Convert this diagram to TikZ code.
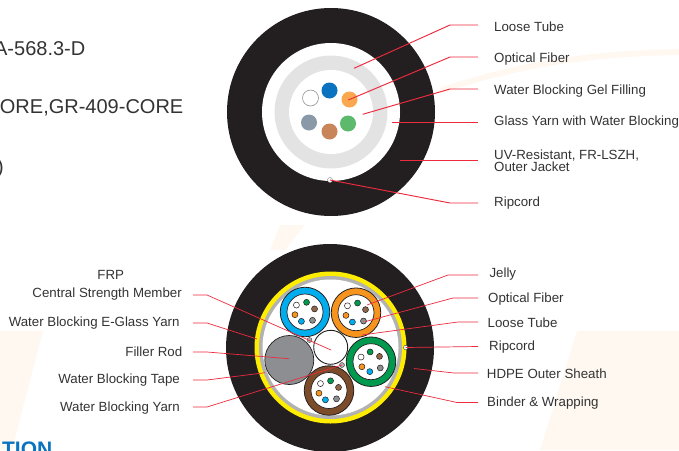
\documentclass[tikz,border=0pt]{standalone}
\usepackage{fontspec}
\setmainfont{Liberation Sans}
\definecolor{jk}{HTML}{231F20}
\definecolor{ln}{HTML}{ED2A3E}
\definecolor{txt}{HTML}{333333}
\definecolor{gy}{HTML}{E3E3E3}
\definecolor{wash}{HTML}{FEF8F1}
\definecolor{cbl}{HTML}{00AEEF}
\definecolor{cor}{HTML}{F7941D}
\definecolor{cgr}{HTML}{009A4E}
\definecolor{cbr}{HTML}{7B4B2A}
\definecolor{cgy}{HTML}{8C8E91}
\definecolor{ufa}{HTML}{0A72BE}
\definecolor{ufb}{HTML}{F9A84F}
\definecolor{ufc}{HTML}{5DB96B}
\definecolor{ufd}{HTML}{C9855A}
\definecolor{ufe}{HTML}{8A99A8}
\tikzset{
  lab/.style={text=txt,font=\fontsize{13.3pt}{12.5pt}\selectfont,inner sep=0pt,anchor=west,align=left,yshift=-1.2pt},
  labr/.style={text=txt,font=\fontsize{13.3pt}{14pt}\selectfont,inner sep=0pt,anchor=east,yshift=-1pt},
  big/.style={text=txt,font=\fontsize{20pt}{20pt}\selectfont,inner sep=0pt,anchor=east},
  lead/.style={draw=ln,line width=.95pt},
  leadb/.style={draw=ln,line width=.7pt},
  fib/.style={circle,minimum size=16pt,inner sep=0pt},
  tube/.style={circle,draw=jk,line width=.8pt,inner sep=0pt,minimum size=49.5pt},
  core/.style={circle,fill=white,draw=jk,line width=.7pt,inner sep=0pt,minimum size=36pt},
  sf/.style={circle,draw=jk,line width=.5pt,inner sep=0pt,minimum size=6pt},
  yarn/.style={circle,fill=gray!60,draw=jk,line width=.3pt,minimum size=5pt,inner sep=0pt}
}
% one loose tube: #1 centre, #2 name, #3 jacket colour, #4 turn of the fibre ring
\newcommand{\loosetube}[4]{%
  \node[tube,fill=#3] (#2t) at (#1) {};
  \node[core] (#2c) at (#1) {};
  \node[sf,fill=white] (#2a) at ([shift={({219+#4}:11)}]#1) {};
  \node[sf,fill=cgr] (#2b) at ([shift={({279+#4}:9.8)}]#1) {};
  \node[sf,fill=cbr!85!white] (#2d) at ([shift={({342+#4}:10)}]#1) {};
  \node[sf,fill=cgy] (#2e) at ([shift={({48+#4}:11.2)}]#1) {};
  \node[sf,fill=cbl] (#2f) at ([shift={({111+#4}:10)}]#1) {};
  \node[sf,fill=cor] (#2g) at ([shift={({165+#4}:10.4)}]#1) {};
}
\begin{document}
\begin{tikzpicture}[x=1pt,y=-1pt]
\useasboundingbox (0,0) rectangle (679,450);
% faint background wash
\fill[wash] (0,331) -- (43,331) -- (12,450) -- (0,450) -- cycle;
\fill[wash] (577,331) -- (679,331) -- (679,450) -- (540,450) -- cycle;
\fill[wash] (280,225) -- (305,225) -- (285,250) -- (270,250) -- cycle;
\fill[wash] (440,88) .. controls (520,60) and (600,50) .. (679,49) -- (679,55) .. controls (600,56) and (520,66) .. (440,94) -- cycle;
% left texts, as far as the picture shows them
\node[big] (t1) at (85.5,48.5) {A-568.3-D};
\node[big] (t2) at (183.5,108) {ORE,GR-409-CORE};
\node[big] (t3) at (4,168) {)};
\node[text=ufa,font=\bfseries\fontsize{21pt}{21pt}\selectfont,inner sep=0pt,anchor=base east] (t4) at (52.5,456) {TION};
% --- upper cable ---
\node[circle,fill=jk,minimum size=208pt,inner sep=0pt] (ua) at (331,112) {};
\node[circle,fill=white,minimum size=138pt,inner sep=0pt] (ub) at (ua) {};
\node[circle,fill=gy,minimum size=113pt,inner sep=0pt] (uc) at (ua) {};
\node[circle,fill=white,minimum size=84pt,inner sep=0pt] (ud) at (ua) {};
\node[fib,fill=white,draw=gray,line width=.5pt] (f1) at (310.5,98) {};
\node[fib,fill=ufa] (f2) at (329.5,90.5) {};
\node[fib,fill=ufb] (f3) at (349.5,99.5) {};
\node[fib,fill=ufc] (f4) at (348,123.5) {};
\node[fib,fill=ufd] (f5) at (329.5,131.5) {};
\node[fib,fill=ufe] (f6) at (309,122.5) {};
\node[circle,fill=white,draw=gray,line width=.4pt,minimum size=5pt,inner sep=0pt] (rc) at (330,180) {};
% upper labels
\node[lab] (l1) at (494,26) {Loose Tube};
\node[lab] (l2) at (494,57.5) {Optical Fiber};
\node[lab] (l3) at (494,90) {Water Blocking Gel Filling};
\node[lab] (l4) at (494,120.5) {Glass Yarn with Water Blocking};
\node[lab] (l5) at (494,159.5) {UV-Resistant, FR-LSZH,\\Outer Jacket};
\node[lab] (l6) at (494,201.5) {Ripcord};
\coordinate (p1) at (354,68.3);
\coordinate (p2) at (348.3,100);
\coordinate (p3) at (362.7,114.3);
\coordinate (p4) at (392.3,122.5);
\coordinate (p5) at (400,160.7);
\draw[lead] (p1) -- (450,25) -- (478,25);
\draw[lead] (p2) -- (450,57) -- (478,57);
\draw[lead] (p3) -- (450,89) -- (478,89);
\draw[lead] (p4) -- (478,122.5);
\draw[lead] (p5) -- (478,160.7);
\draw[lead] (rc.center) -- (450,203) -- (478,203);
% --- lower cable ---
\node[circle,fill=jk,minimum size=208pt,inner sep=0pt] (la) at (330,348) {};
\node[circle,fill=yellow!95!orange,minimum size=152pt,inner sep=0pt] (lb) at (330.5,347.5) {};
\node[circle,fill=gray!60,minimum size=143pt,inner sep=0pt] (lc) at (lb) {};
\node[circle,fill=white,minimum size=136pt,inner sep=0pt] (ld) at (lb) {};
\loosetube{305,312}{ta}{cbl}{0}
\loosetube{356,312.7}{tb}{cor}{0}
\loosetube{371,361.7}{tc}{cgr}{-14}
\loosetube{329,390.5}{td}{cbr}{0}
\node[circle,fill=cgy,draw=jk,line width=.7pt,minimum size=49pt,inner sep=0pt] (fr) at (289.3,360) {};
\node[circle,fill=white,draw=jk,line width=.9pt,minimum size=34pt,inner sep=0pt] (frp) at (330.7,347.3) {};
\node[yarn] (y1) at (309.5,340) {};
\node[yarn] (y2) at (342,365) {};
\node[circle,fill=white,draw=jk,line width=.3pt,minimum size=4.5pt,inner sep=0pt] (rd) at (405.7,347.5) {};
% lower labels, right
\node[lab] (r1) at (489.3,272.5) {Jelly};
\node[lab] (r2) at (488,298) {Optical Fiber};
\node[lab] (r3) at (487.5,322) {Loose Tube};
\node[lab] (r4) at (489,345.5) {Ripcord};
\node[lab] (r5) at (486.7,373) {HDPE Outer Sheath};
\node[lab] (r6) at (487,401.5) {Binder \& Wrapping};
\coordinate (q1) at (367,305);
\coordinate (q2) at (365,321.7);
\coordinate (q3) at (361.7,335);
\coordinate (q5) at (414,368.5);
\coordinate (q6) at (385,386.7);
\draw[leadb] (q1) -- (448,275) -- (478,275);
\draw[leadb] (q2) -- (453,298) -- (478,298);
\draw[leadb] (q3) -- (458,322) -- (478,322);
\draw[leadb] (rd.center) -- (478,346.5);
\draw[leadb] (q5) -- (454,373) -- (478,373);
\draw[leadb] (q6) -- (457,402.5) -- (478,402.5);
% lower labels, left
\node[text=txt,font=\fontsize{13.3pt}{14pt}\selectfont,inner sep=0pt] (g0) at (110.7,275) {FRP};
\node[labr] (g1) at (182,293.5) {Central Strength Member};
\node[labr] (g2) at (179.7,322) {Water Blocking E-Glass Yarn};
\node[labr] (g3) at (182.5,351) {Filler Rod};
\node[labr] (g4) at (180,379) {Water Blocking Tape};
\node[labr] (g5) at (180,407.5) {Water Blocking Yarn};
\coordinate (s1) at (193,295);
\coordinate (s2) at (193,323);
\coordinate (s3) at (193,352);
\coordinate (s4) at (193,380);
\coordinate (s5) at (193,407);
\coordinate (h1) at (331,350);
\coordinate (h2) at (257,339);
\coordinate (h3) at (289,358.7);
\coordinate (h4) at (265,372.7);
\coordinate (h5) at (342,365);
\draw[leadb] (s1) -- (207,295) -- (h1);
\draw[leadb] (s2) -- (207,323) -- (h2);
\draw[leadb] (s3) -- (207,352) -- (h3);
\draw[leadb] (s4) -- (207,380) -- (h4);
\draw[leadb] (s5) -- (207,407) -- (h5);
\end{tikzpicture}
\end{document}
